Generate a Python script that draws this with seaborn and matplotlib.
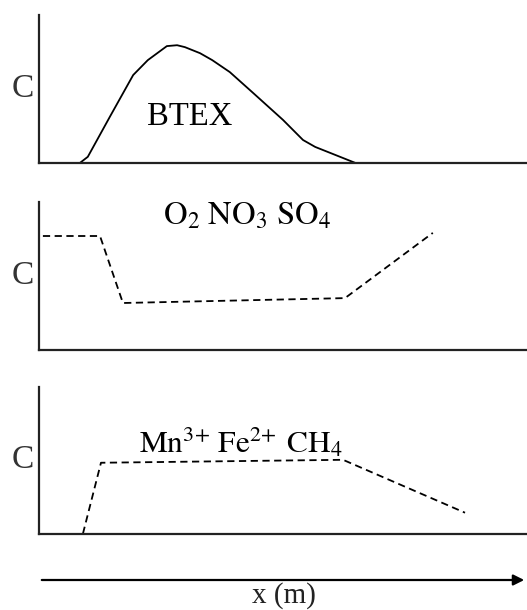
import matplotlib
matplotlib.use("Agg")
import matplotlib.pyplot as plt
import seaborn as sns

# BTEX plume profile (top panel)
btex_x = [8.4, 10.0, 11.9, 14.5, 17.0, 19.3, 22.3, 26.2, 28.3, 29.9, 33.0, 35.5, 39.1, 43.9, 50.0, 54.1, 56.6, 64.8]
btex_c = [0.0, 4.1, 15.5, 31.1, 45.9, 59.5, 69.6, 79.1, 79.7, 78.4, 74.3, 69.6, 61.5, 47.3, 29.1, 15.5, 10.8, 0.0]

# electron acceptors O2 / NO3 / SO4 (middle panel)
acc_x = [0.8, 12.5, 17.2, 62.7, 80.7]
acc_c = [77.0, 77.0, 31.8, 35.1, 79.1]

# reduced species Mn / Fe / CH4 (bottom panel)
red_x = [9.0, 12.7, 62.3, 87.3]
red_c = [0.0, 48.3, 50.3, 14.3]

panel_labels = ["BTEX", r"$\mathrm{O_2\ NO_3\ SO_4}$", r"$\mathrm{Mn^{3\!+}\,Fe^{2\!+}\;CH_4}$"]
label_pos = [(30.9, 31), (42.6, 90), (41.4, 62)]
label_size = [23.5, 23.5, 22.5]

sns.set_style("white")
plt.rcParams['font.family'] = ['Liberation Serif', 'DejaVu Serif']
plt.rcParams['mathtext.fontset'] = 'stix'

fig = plt.figure(figsize=(5.27, 6.10), dpi=100)

# axes boxes [left, bottom, width, height] in figure fractions
boxes = [[0.074, 0.733, 0.926, 0.242],
         [0.074, 0.426, 0.926, 0.243],
         [0.074, 0.125, 0.926, 0.241]]
series = [(btex_x, btex_c, "-"), (acc_x, acc_c, (0, (4, 2.5))), (red_x, red_c, (0, (4, 2.5)))]

for box, (xs, ys, ls), lab, pos, fs in zip(boxes, series, panel_labels, label_pos, label_size):
    ax = fig.add_axes(box)
    sns.lineplot(x=xs, y=ys, ax=ax, color="black", linewidth=1.3, linestyle=ls, sort=False)
    ax.set_xlim(0, 100)
    ax.set_ylim(0, 100)
    ax.set_xticks([])
    ax.set_yticks([])
    sns.despine(ax=ax)
    for s in ["left", "bottom"]:
        ax.spines[s].set_linewidth(1.6)
        ax.spines[s].set_color("#222222")
    ax.set_ylabel("C", rotation=0, fontsize=24, labelpad=4, va="center", ha="right", color="#333333")
    ax.text(pos[0], pos[1], lab, fontsize=fs, ha="center", va="center", color="black")

# distance arrow below the panels
fig.add_artist(matplotlib.patches.FancyArrowPatch(
    (0.074, 1 - 580 / 610), (1.0, 1 - 580 / 610), transform=fig.transFigure,
    arrowstyle="-|>", mutation_scale=16, linewidth=1.6, color="black"))
fig.text(0.539, 1 - 603 / 610, "x (m)", fontsize=21, ha="center", va="baseline", color="#222222")

fig.savefig("out.png", dpi=100)
